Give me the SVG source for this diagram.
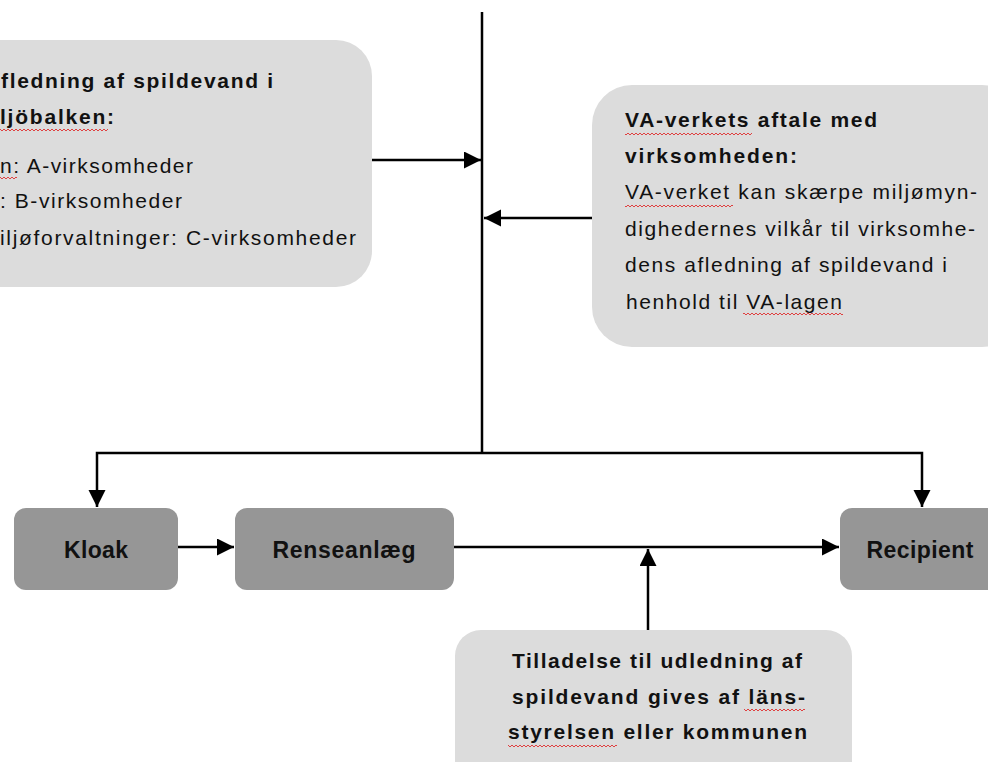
<svg xmlns="http://www.w3.org/2000/svg" width="988" height="762" viewBox="0 0 988 762">
<style>
.bg{fill:#ffffff}
.note{fill:#dcdcdc}
.node{fill:#969696}
.t{font-family:"Liberation Sans",Arial,sans-serif;font-size:21px;fill:#111}
.b{font-weight:bold}
.nt{font-family:"Liberation Sans",Arial,sans-serif;font-size:23px;font-weight:bold;fill:#111;text-anchor:middle}
.c{fill:none;stroke:#000;stroke-width:2.5}
.sq{fill:url(#sq)}
</style>
<defs>
<marker id="ah" markerUnits="userSpaceOnUse" markerWidth="18" markerHeight="18" refX="17" refY="8.5" orient="auto">
<path d="M0,0 L17,8.5 L0,17 Z" fill="#000"/>
</marker>
<pattern id="sq" width="4" height="4" patternUnits="userSpaceOnUse">
<path d="M0,1 L2,3 L4,1" fill="none" stroke="#e03030" stroke-width="0.9"/>
</pattern>
</defs>
<rect class="bg" x="0" y="0" width="988" height="762"/>

<g id="connectors">
<path class="c" d="M482,12 V453"/>
<path class="c" d="M482,453 H97 V507" marker-end="url(#ah)"/>
<path class="c" d="M482,453 H922 V507" marker-end="url(#ah)"/>
<path class="c" d="M372,160 H481" marker-end="url(#ah)"/>
<path class="c" d="M592,218 H484" marker-end="url(#ah)"/>
<path class="c" d="M178,547 H234" marker-end="url(#ah)"/>
<path class="c" d="M454,547 H839" marker-end="url(#ah)"/>
<path class="c" d="M648,630 V549" marker-end="url(#ah)"/>
</g>

<g id="miljobalken">
<rect class="note" x="-40" y="40" width="412" height="247" rx="36"/>
<text class="t b" x="1" y="88" textLength="272" lengthAdjust="spacing">fledning af spildevand i</text>
<text class="t b" x="0" y="124" textLength="114" lengthAdjust="spacing">ljöbalken:</text>
<text class="t" x="0" y="173" textLength="193" lengthAdjust="spacing">n: A-virksomheder</text>
<text class="t" x="0" y="208" textLength="182" lengthAdjust="spacing">: B-virksomheder</text>
<text class="t" x="0" y="245" textLength="356" lengthAdjust="spacing">iljøforvaltninger: C-virksomheder</text>
<rect class="sq" x="0" y="128" width="108" height="4"/>
<rect class="sq" x="0" y="176" width="17" height="4"/>
</g>

<g id="va-aftale">
<rect class="note" x="592" y="85" width="430" height="262" rx="40"/>
<text class="t b" x="625" y="127" textLength="252" lengthAdjust="spacing">VA-verkets aftale med</text>
<text class="t b" x="625" y="163" textLength="172" lengthAdjust="spacing">virksomheden:</text>
<text class="t" x="625" y="199" textLength="352" lengthAdjust="spacing">VA-verket kan skærpe miljømyn-</text>
<text class="t" x="625" y="236" textLength="350" lengthAdjust="spacing">dighedernes vilkår til virksomhe-</text>
<text class="t" x="625" y="272" textLength="322" lengthAdjust="spacing">dens afledning af spildevand i</text>
<text class="t" x="626" y="309" textLength="216" lengthAdjust="spacing">henhold til VA-lagen</text>
<rect class="sq" x="625" y="132" width="127" height="4"/>
<rect class="sq" x="625" y="204" width="108" height="4"/>
<rect class="sq" x="743" y="312" width="100" height="4"/>
</g>

<g id="kloak">
<rect class="node" x="14" y="508" width="164" height="82" rx="12"/>
<text class="nt" x="96" y="558" textLength="64" lengthAdjust="spacing">Kloak</text>
</g>

<g id="renseanlaeg">
<rect class="node" x="235" y="508" width="219" height="82" rx="12"/>
<text class="nt" x="344" y="558" textLength="143" lengthAdjust="spacing">Renseanlæg</text>
</g>

<g id="recipient">
<rect class="node" x="840" y="508" width="170" height="82" rx="12"/>
<text class="nt" x="920" y="558" textLength="107" lengthAdjust="spacing">Recipient</text>
</g>

<g id="tilladelse">
<rect class="note" x="455" y="630" width="397" height="160" rx="26"/>
<text class="t b" x="512" y="668" textLength="290" lengthAdjust="spacing">Tilladelse til udledning af</text>
<text class="t b" x="512" y="704" textLength="293" lengthAdjust="spacing">spildevand gives af läns-</text>
<text class="t b" x="508" y="739" textLength="299" lengthAdjust="spacing">styrelsen eller kommunen</text>
<rect class="sq" x="744" y="708" width="61" height="4"/>
<rect class="sq" x="508" y="744" width="109" height="4"/>
</g>
</svg>
